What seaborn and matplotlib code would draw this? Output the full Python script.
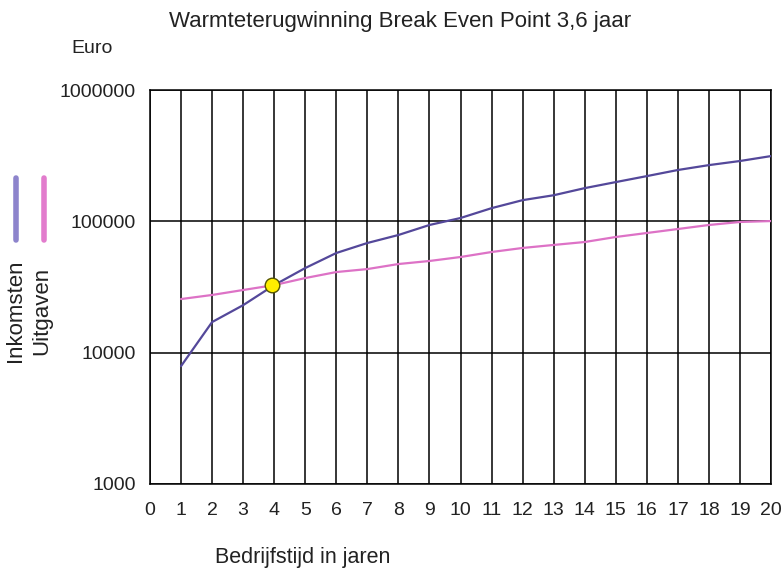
import matplotlib
matplotlib.use("Agg")
import matplotlib.pyplot as plt
import matplotlib.ticker as mticker
import seaborn as sns
import pandas as pd

years = list(range(1, 21))
inkomsten = [7900, 17100, 23000, 32700, 44100, 57400, 68400, 78700, 93800, 106000,
             126000, 145000, 158000, 179000, 199000, 221000, 246000, 268000, 288000, 314000]
uitgaven = [25600, 27500, 30000, 32700, 37000, 41100, 43300, 47300, 49900, 53500,
            58400, 62700, 66100, 69600, 76000, 81500, 87400, 93800, 98900, 100500]
breakeven_x = [3.93]
breakeven_y = [33000]
x_ticks = list(range(0, 21))
y_ticks = [1000, 10000, 100000, 1000000]
title = "Warmteterugwinning Break Even Point 3,6 jaar"

sns.set_style("white")
plt.rcParams['font.family'] = ['Liberation Sans', 'DejaVu Sans']

df = pd.DataFrame({
    "jaar": years * 2,
    "euro": inkomsten + uitgaven,
    "serie": ["Inkomsten"] * len(years) + ["Uitgaven"] * len(years),
})
col_ink = "#54489a"
col_uit = "#dd72c6"

fig = plt.figure(figsize=(7.82, 5.74), dpi=100)
ax = fig.add_axes([0.1918, 0.1568, 0.7942, 0.6864])

sns.lineplot(data=df, x="jaar", y="euro", hue="serie",
             palette={"Inkomsten": col_ink, "Uitgaven": col_uit},
             linewidth=1.6, legend=False, ax=ax, zorder=3)
sns.scatterplot(x=breakeven_x, y=breakeven_y, color="#ffee00", edgecolor="#555500",
                s=110, linewidth=1.0, ax=ax, zorder=4)

ax.set_yscale("log")
ax.set_xlim(0, 20)
ax.set_ylim(1000, 1000000)
ax.set_xticks(x_ticks)
ax.set_yticks(y_ticks)
ax.yaxis.set_major_formatter(mticker.FuncFormatter(lambda v, p: f"{int(round(v))}"))
ax.yaxis.set_minor_locator(mticker.NullLocator())
ax.grid(True, which="major", color="black", linewidth=1.1)
ax.set_axisbelow(True)
for s in ax.spines.values():
    s.set_color("black")
    s.set_linewidth(1.1)
ax.tick_params(axis="x", direction="inout", length=10, width=1.1, labelsize=14,
               pad=8, colors="black")
ax.tick_params(axis="y", direction="out", length=6, width=1.1, labelsize=14,
               pad=4, colors="black")
for t in ax.get_xticklabels() + ax.get_yticklabels():
    t.set_color("#222222")
ax.set_xlabel("")
ax.set_ylabel("")

fig.text(0.512, 0.962, title, ha="center", va="center", fontsize=16, color="#222222")
fig.text(0.118, 0.916, "Euro", ha="center", va="center", fontsize=14, color="#222222")
fig.text(0.387, 0.028, "Bedrijfstijd in jaren", ha="center", va="center",
         fontsize=15.5, color="#222222")

# legend
fig.add_artist(plt.Line2D([0.0205, 0.0205], [1 - 178 / 574, 1 - 240 / 574],
                          color="#8d84cc", linewidth=4, transform=fig.transFigure))
fig.add_artist(plt.Line2D([0.0565, 0.0565], [1 - 178 / 574, 1 - 240 / 574],
                          color="#e27ccd", linewidth=4, transform=fig.transFigure))
fig.text(0.0195, 1 - 311 / 574, "Inkomsten", rotation=90, ha="center", va="center",
         fontsize=16, color="#222222")
fig.text(0.053, 1 - 311 / 574, "Uitgaven", rotation=90, ha="center", va="center",
         fontsize=16, color="#222222")

fig.savefig("out.png", dpi=100, facecolor="white")
